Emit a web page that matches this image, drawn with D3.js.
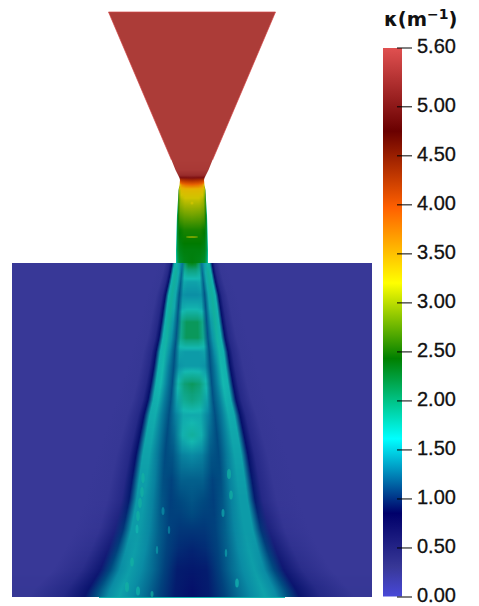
<!DOCTYPE html>
<html>
<head>
<meta charset="utf-8">
<script src="https://cdn.jsdelivr.net/npm/d3@7"></script>
<style>
  html, body { margin: 0; background: #fff; }
  svg { display: block; }
</style>
</head>
<body>
<div id="chart"></div>
<script>
// colour map, kappa value -> colour
const mapValues = [0, 0.3, 0.85, 1.61, 2.43, 3.2, 3.97, 4.75, 5.6];
const mapColors = ['#4848d8', '#383897', '#00006a', '#00ffff', '#008000', '#ffff00', '#ff6000', '#6a0000', '#e05050'];
const barTicks = [0, 0.5, 1, 1.5, 2, 2.5, 3, 3.5, 4, 4.5, 5, 5.6];

// the lit surface looks duller than the bar, so the field has its own ramps
const plumeValues = [0.3, 0.85, 1.0, 1.3, 1.6, 2.0, 2.4];
const plumeColors = ['#383897', '#05106a', '#004a80', '#0a8ca4', '#14b8b0', '#0ea07a', '#008000'];
const throatValues = [1.5, 1.9, 2.4, 2.9, 3.2, 3.5, 3.9, 4.4, 4.75, 5.0, 5.3];
const throatColors = ['#10d0d0', '#00b080', '#007a00', '#80a800', '#d0c400', '#e8b000', '#e86000', '#b03000', '#801010', '#962a2a', '#ac3c38'];

// nozzle (cone + throat): axial position, half width, kappa across the section
const nozzleZ = [0, 1.48, 1.58, 1.63, 1.66, 1.68, 1.73, 1.78, 1.88, 2.03, 2.18, 2.38, 2.51];
const nozzleHalf = [0.835, 0.205, 0.165, 0.14, 0.125, 0.12, 0.125, 0.135, 0.14, 0.15, 0.155, 0.16, 0.16];
const nozzleStops = [0, 0.5, 0.8, 0.93, 1];
const nozzleKappa = [
  [5.3, 5.3, 5.3, 5.3, 5.3],
  [5.3, 5.3, 5.3, 5.3, 5.3],
  [5.25, 5.25, 5.25, 5.25, 5.25],
  [5.05, 5.05, 5.05, 5.05, 5.15],
  [4.75, 4.72, 4.72, 4.7, 4.8],
  [4.5, 4.45, 4.4, 4.35, 4.2],
  [3.85, 3.8, 3.7, 3.5, 3.2],
  [3.4, 3.4, 3.35, 3.1, 2.6],
  [3.15, 3.15, 3.05, 2.75, 2.2],
  [2.85, 2.82, 2.75, 2.45, 1.75],
  [2.5, 2.5, 2.42, 2.25, 1.65],
  [2.35, 2.35, 2.3, 2.1, 1.6],
  [2.35, 2.3, 2.2, 1.95, 1.5]
];

// plume in the chamber
const plumeZ = [2.51, 2.6, 2.7, 2.83, 2.96, 3.1, 3.26, 3.4, 3.54, 3.72, 3.88, 4.03, 4.23, 4.43, 4.68, 4.88, 5.18, 5.38, 5.58, 5.78, 5.85];
const plumeHalf = [0.2, 0.215, 0.235, 0.265, 0.285, 0.305, 0.33, 0.36, 0.38, 0.41, 0.44, 0.48, 0.52, 0.56, 0.6, 0.63, 0.69, 0.75, 0.82, 0.93, 0.96];
const plumeStops = [0, 0.18, 0.34, 0.48, 0.62, 0.76, 0.88, 1, 1.12, 1.35, 1.7];
const plumeKappa = [
  [2.35, 2.3, 2.1, 1.2, 1.4, 1.65, 1.5, 0.85, 0.5, 0.32, 0.3],
  [1.9, 1.9, 1.75, 1.15, 1.5, 1.75, 1.55, 0.85, 0.5, 0.32, 0.3],
  [1.45, 1.45, 1.5, 1.1, 1.5, 1.75, 1.55, 0.85, 0.5, 0.32, 0.3],
  [1.32, 1.32, 1.35, 1.05, 1.5, 1.75, 1.55, 0.85, 0.5, 0.32, 0.3],
  [1.55, 1.55, 1.5, 1.05, 1.5, 1.75, 1.55, 0.85, 0.5, 0.32, 0.3],
  [2.1, 2.1, 1.9, 1.05, 1.4, 1.75, 1.55, 0.85, 0.5, 0.32, 0.3],
  [2.1, 2.1, 1.85, 1.05, 1.35, 1.7, 1.55, 0.85, 0.5, 0.32, 0.3],
  [1.4, 1.4, 1.45, 1.03, 1.3, 1.65, 1.55, 0.85, 0.5, 0.32, 0.3],
  [1.4, 1.4, 1.35, 1.03, 1.25, 1.62, 1.55, 0.85, 0.5, 0.32, 0.3],
  [2.1, 2.02, 1.65, 1.03, 1.25, 1.6, 1.55, 0.85, 0.5, 0.32, 0.3],
  [1.95, 1.82, 1.45, 1.03, 1.22, 1.55, 1.52, 0.85, 0.5, 0.32, 0.3],
  [1.5, 1.5, 1.25, 1.02, 1.22, 1.52, 1.5, 0.85, 0.5, 0.32, 0.3],
  [1.75, 1.55, 1.15, 1.0, 1.22, 1.48, 1.48, 0.85, 0.5, 0.32, 0.3],
  [1.3, 1.25, 1.05, 1.0, 1.22, 1.45, 1.45, 0.85, 0.5, 0.32, 0.3],
  [1.1, 1.1, 0.98, 1.02, 1.25, 1.42, 1.42, 0.87, 0.5, 0.32, 0.3],
  [1.05, 1.0, 0.97, 1.05, 1.25, 1.4, 1.4, 0.88, 0.5, 0.32, 0.3],
  [0.95, 0.95, 0.98, 1.1, 1.28, 1.4, 1.4, 0.95, 0.6, 0.35, 0.3],
  [0.9, 0.92, 0.98, 1.12, 1.3, 1.42, 1.35, 0.98, 0.68, 0.4, 0.3],
  [0.87, 0.88, 0.98, 1.15, 1.3, 1.42, 1.3, 1.0, 0.75, 0.45, 0.3],
  [0.85, 0.88, 0.98, 1.15, 1.3, 1.45, 1.3, 1.02, 0.8, 0.5, 0.32],
  [0.85, 0.88, 0.98, 1.15, 1.3, 1.45, 1.3, 1.02, 0.8, 0.5, 0.32]
];

// small bright cells
const spotX = [-0.49, -0.5, -0.52, -0.54, -0.55, -0.6, -0.65, -0.54, -0.4, -0.35, -0.23, -0.29, 0.37, 0.39, 0.31, 0.34, 0.45];
const spotZ = [4.66, 4.8, 4.91, 5.04, 5.17, 5.5, 5.75, 5.79, 5.82, 5.38, 5.18, 4.99, 4.62, 4.83, 5.01, 5.41, 5.71];
const spotRx = [1.7, 1.7, 1.8, 1.8, 1.5, 1.8, 2, 2, 1.5, 1.2, 1.2, 1.5, 2, 1.8, 1.5, 1.2, 1.8];
const spotRy = [5, 5, 5, 5, 4.5, 4.5, 5, 4.5, 3, 4, 4, 4, 5, 4.5, 4, 4, 4.5];
const spotKappa = [1.7, 1.7, 1.7, 1.7, 1.6, 1.7, 1.7, 1.65, 1.7, 1.4, 1.3, 1.35, 1.7, 1.7, 1.5, 1.45, 1.6];

// marks inside the throat
const throatSpotZ = [1.91, 2.25];
const throatSpotRx = [1.5, 6];
const throatSpotRy = [1.5, 1];
const throatSpotKappa = [3.2, 2.95];

const width = 479, height = 606;
const fontFamily = '"Liberation Sans", Arial, sans-serif';

const x = d3.scaleLinear().domain([-1.8, 1.8]).range([12, 372]);
const z = d3.scaleLinear().domain([0, 5.85]).range([12, 597]);
const px = d3.scaleLinear().domain([0, 1]).range([0, x(1) - x(0)]);
const color = d3.scaleLinear().domain(mapValues).range(mapColors);
const plumeColor = d3.scaleLinear().domain(plumeValues).range(plumeColors).clamp(true);
const throatColor = d3.scaleLinear().domain(throatValues).range(throatColors).clamp(true);
const barY = d3.scaleLinear().domain([0, 5.6]).range([596.5, 47.5]);

const svg = d3.select('#chart').append('svg')
  .attr('width', width)
  .attr('height', height);
const defs = svg.append('defs');

// one 1px row per picture line, with a gradient across the section
function buildRows(zs, halves, table) {
  const half = d3.scaleLinear().domain(zs).range(halves);
  const cols = table[0].map((_, j) => d3.scaleLinear().domain(zs).range(table.map(r => r[j])));
  const [y0, y1] = [Math.round(z(zs[0])), Math.round(z(zs[zs.length - 1]))];
  return d3.range(y0, y1).map(y => {
    const zz = z.invert(y + 0.5);
    return {y, half: half(zz), values: cols.map(c => c(zz))};
  });
}

function drawRows(name, rows, stops, full, fieldColor) {
  const outer = stops[stops.length - 1];
  const grads = defs.selectAll(`linearGradient.${name}`)
    .data(rows)
    .join('linearGradient')
    .attr('class', name)
    .attr('id', (d, i) => `${name}-${i}`)
    .attr('gradientUnits', 'userSpaceOnUse')
    .attr('x1', d => x(0) - px(d.half) * outer)
    .attr('x2', d => x(0) + px(d.half) * outer)
    .attr('y1', 0)
    .attr('y2', 0);

  grads.selectAll('stop')
    .data(d => {
      const right = stops.map((s, i) => [s, d.values[i]]);
      const left = right.slice(1).reverse().map(([s, v]) => [-s, v]);
      return left.concat(right);
    })
    .join('stop')
    .attr('offset', d => (d[0] / outer + 1) / 2)
    .attr('stop-color', d => fieldColor(d[1]));

  svg.append('g').selectAll('rect')
    .data(rows)
    .join('rect')
    .attr('x', d => full ? x.range()[0] : x(0) - px(d.half))
    .attr('width', d => full ? x.range()[1] - x.range()[0] : px(d.half) * 2)
    .attr('y', d => d.y)
    .attr('height', 1)
    .attr('fill', (d, i) => `url(#${name}-${i})`);
}

drawRows('nozzle', buildRows(nozzleZ, nozzleHalf, nozzleKappa), nozzleStops, false, throatColor);
drawRows('plume', buildRows(plumeZ, plumeHalf, plumeKappa), plumeStops, true, plumeColor);

// cone outline, a little lighter than the fill
const coneLine = d3.line().x(d => x(d[0])).y(d => z(d[1]));
svg.append('path')
  .attr('d', coneLine([
    [-nozzleHalf[1], nozzleZ[1]],
    [-nozzleHalf[0], nozzleZ[0]],
    [nozzleHalf[0], nozzleZ[0]],
    [nozzleHalf[1], nozzleZ[1]]
  ]))
  .attr('fill', 'none')
  .attr('stroke', color(5.5))
  .attr('stroke-opacity', 0.7)
  .attr('stroke-width', 1);

// outlet line along the bottom of the plume
svg.append('line')
  .attr('x1', x(-0.93)).attr('x2', x(0.93))
  .attr('y1', z(5.85) + 0.5).attr('y2', z(5.85) + 0.5)
  .attr('stroke', plumeColor(1.6));

svg.append('g').selectAll('ellipse')
  .data(spotX.map((d, i) => i))
  .join('ellipse')
  .attr('cx', i => x(spotX[i]))
  .attr('cy', i => z(spotZ[i]))
  .attr('rx', i => spotRx[i])
  .attr('ry', i => spotRy[i])
  .attr('fill', i => plumeColor(spotKappa[i]))
  .attr('fill-opacity', 0.7);

svg.append('g').selectAll('ellipse')
  .data(throatSpotZ.map((d, i) => i))
  .join('ellipse')
  .attr('cx', x(0))
  .attr('cy', i => z(throatSpotZ[i]))
  .attr('rx', i => throatSpotRx[i])
  .attr('ry', i => throatSpotRy[i])
  .attr('fill', i => throatColor(throatSpotKappa[i]))
  .attr('fill-opacity', 0.8);

// colour bar
const barGrad = defs.append('linearGradient')
  .attr('id', 'bar')
  .attr('x1', 0).attr('x2', 0).attr('y1', 1).attr('y2', 0);
barGrad.selectAll('stop')
  .data(mapValues)
  .join('stop')
  .attr('offset', d => d / 5.6)
  .attr('stop-color', d => color(d));

svg.append('rect')
  .attr('x', 383).attr('width', 19)
  .attr('y', barY(5.6) + 0.5).attr('height', barY(0) - barY(5.6) - 0.5)
  .attr('fill', 'url(#bar)');

const axis = svg.append('g')
  .attr('transform', 'translate(397,0)')
  .call(d3.axisRight(barY)
    .tickValues(barTicks)
    .tickFormat(d3.format('.2f'))
    .tickSize(15)
    .tickPadding(5));
axis.select('.domain').remove();
axis.selectAll('line').attr('stroke', '#000').attr('stroke-width', 1);
axis.selectAll('text')
  .attr('font-family', fontFamily)
  .attr('font-size', 20)
  .attr('fill', '#111')
  .attr('stroke', '#111')
  .attr('stroke-width', 0.3)
  .attr('dy', '0.25em');

const title = svg.append('text')
  .attr('x', 384)
  .attr('y', 26)
  .attr('font-family', '"DejaVu Sans", sans-serif')
  .attr('font-size', 19.5)
  .attr('font-weight', 'bold')
  .attr('fill', '#111');
title.append('tspan').text('κ(m');
title.append('tspan').attr('dy', -7).attr('font-size', 14).text('−1');
title.append('tspan').attr('dy', 7).text(')');
</script>
</body>
</html>
